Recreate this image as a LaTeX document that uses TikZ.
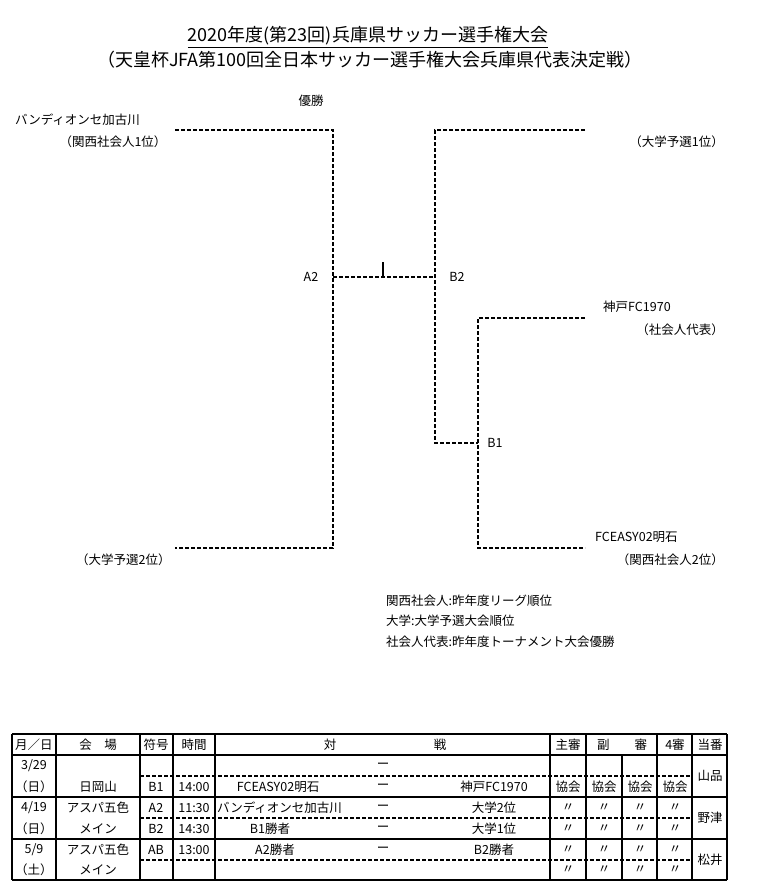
\documentclass[tikz,border=0pt]{standalone}
\usepackage{fontspec}
\setmainfont{Noto Sans CJK JP}
\begin{document}
\begin{tikzpicture}[x=1pt,y=-1pt,
  br/.style={line width=1.4pt,dash pattern=on 4pt off 2pt},
  tl/.style={line width=1.3pt},
  td/.style={line width=1.2pt,dash pattern=on 4pt off 2pt},
  t/.style={font=\fontsize{12.5}{14}\selectfont,inner sep=0pt},
  ]
\useasboundingbox (0,0) rectangle (762,895);
\node[inner sep=0pt,font=\fontsize{18}{20}\selectfont] (title) at (368,37) {\underline{2020年度(第23回)兵庫県サッカー選手権大会}};
\node[inner sep=0pt,font=\fontsize{18}{20}\selectfont] (sub) at (370,60) {（天皇杯JFA第100回全日本サッカー選手権大会兵庫県代表決定戦）};
\node[t] (win) at (311,101) {優勝};
\node[t,anchor=west] (t1) at (15,120) {バンディオンセ加古川};
\node[t] (t1b) at (113,142) {（関西社会人1位）};
\node[t,anchor=east] (t2) at (724,142) {（大学予選1位）};
\node[t] (a2) at (311,277) {A2};
\node[t] (b2) at (457,277) {B2};
\node[t] (b1) at (495,443) {B1};
\node[t,anchor=west] (t3) at (603,307) {神戸FC1970};
\node[t,anchor=east] (t3b) at (724,330) {（社会人代表）};
\node[t,anchor=west] (t4) at (595,537) {FCEASY02明石};
\node[t,anchor=east] (t4b) at (724,560) {（関西社会人2位）};
\node[t,anchor=west] (t5) at (76,560) {（大学予選2位）};
\node[t,anchor=west] at (386,601) {関西社会人:昨年度リーグ順位};
\node[t,anchor=west] at (386,621) {大学:大学予選大会順位};
\node[t,anchor=west] at (386,642) {社会人代表:昨年度トーナメント大会優勝};
% bracket
\draw[br] (175,130) -- (333,130) -- (333,548) -- (175,548);
\draw[br] (333,277) -- (435,277);
\draw[line width=1.4pt] (383,262) -- (383,277);
\draw[br] (585,130) -- (435,130) -- (435,443) -- (478,443);
\draw[br] (585,318) -- (478,318) -- (478,548) -- (585,548);
% table
\foreach \y in {734,755,797,839,880} \draw[tl] (12,\y) -- (727,\y);
\foreach \y in {776,818,860} \draw[td] (140,\y) -- (692,\y);
\foreach \x in {12,56,140,173,215,550,586,657,692,727} \draw[tl] (\x,734) -- (\x,880);
\draw[tl] (622,755) -- (622,880);
\node[t] at (34,745) {月／日};
\node[t] at (98,745) {会\quad 場};
\node[t] at (156,745) {符号};
\node[t] at (194,745) {時間};
\node[t] at (330,745) {対};
\node[t] at (440,745) {戦};
\node[t] at (568,745) {主審};
\node[t] at (622,745) {副\qquad 審};
\node[t] at (675,745) {4審};
\node[t] at (710,745) {当番};
\foreach \yy/\d in {766/3\slash 29,787/（日）,808/4\slash 19,829/（日）,850/5\slash 9,870/（土）} \node[t] at (34,\yy) {\d};
\node[t] at (98,787) {日岡山};
\node[t] at (98,808) {アスパ五色};
\node[t] at (98,829) {メイン};
\node[t] at (98,850) {アスパ五色};
\node[t] at (98,870) {メイン};
\foreach \yy/\c/\h in {787/B1/14:00,808/A2/11:30,829/B2/14:30,850/AB/13:00} {
  \node[t] at (156,\yy) {\c}; \node[t] at (194,\yy) {\h};}
\foreach \yy in {766,787,808,829,850} \node[t] at (383,\yy) {ー};
\node[t] at (278,787) {FCEASY02明石};
\node[t,anchor=west] at (217,808) {バンディオンセ加古川};
\node[t] at (270,829) {B1勝者};
\node[t] at (275,850) {A2勝者};
\node[t] at (494,787) {神戸FC1970};
\node[t] at (494,808) {大学2位};
\node[t] at (494,829) {大学1位};
\node[t] at (494,850) {B2勝者};
\foreach \x in {568,604,640,675} {
  \node[t] at (\x,787) {協会};
  \foreach \yy in {808,829,850,870} \node[t] at (\x,\yy) {〃};}
\node[t] at (710,776) {山品};
\node[t] at (710,818) {野津};
\node[t] at (710,860) {松井};
\end{tikzpicture}
\end{document}
